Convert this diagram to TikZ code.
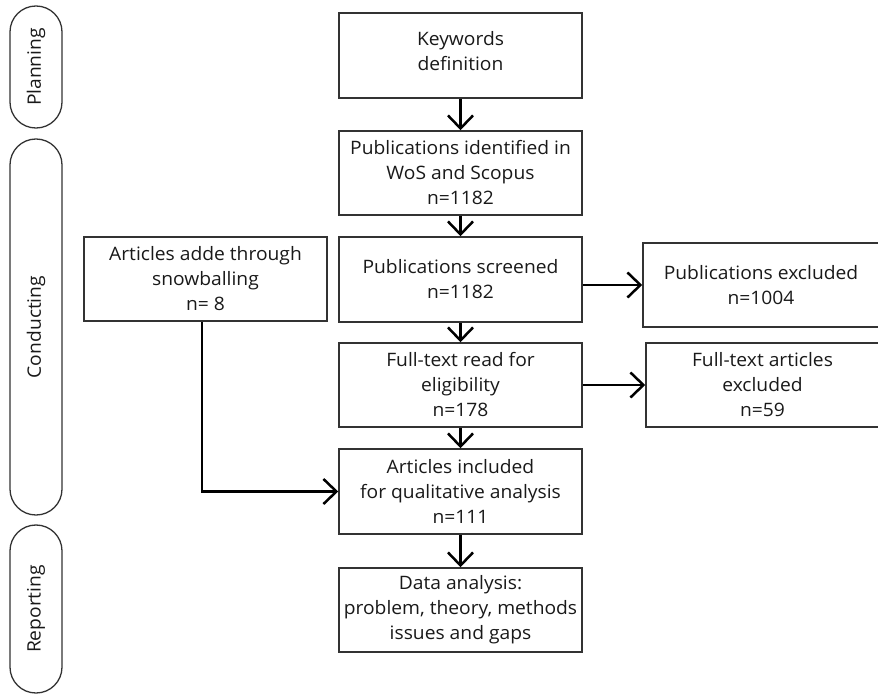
\documentclass[tikz,border=0pt]{standalone}
\usepackage{fontspec}
\setmainfont[FakeStretch=1.04]{Open Sans}
\usetikzlibrary{arrows.meta}
\begin{document}
\begin{tikzpicture}[x=1pt,y=-1pt,
  every node/.style={font=\fontsize{18.5}{25}\selectfont, align=center, text=black!90},
  box/.style={draw=black!80, line width=1.5pt, inner sep=0pt, minimum width=243pt, minimum height=85pt},
  phase/.style={draw=black!80, line width=1.3pt, rounded corners=25.9pt, minimum height=52pt, inner sep=0pt, rotate=90},
  flow/.style={line width=2.5pt, -{Straight Barb[length=13pt,width=25pt,line width=2.5pt]}},
]
\useasboundingbox (0,0) rectangle (878,694);

% phase labels on the left
\node[phase, minimum width=122pt] (plan) at (36,67) {Planning};
\node[phase, minimum width=376pt] (cond) at (36,327) {Conducting};
\node[phase, minimum width=168pt] (rep) at (36,609) {Reporting};

% main column
\node[box, text depth=10pt] (kw)  at (460.5,55.5)  {Keywords\\definition};
\node[box, minimum height=84pt] (id)  at (460.5,173)   {Publications identified in\\WoS and Scopus\\n=1182};
\node[box] (scr) at (460.5,279.5) {Publications screened\\n=1182};
\node[box, minimum height=84pt] (ft)  at (460.5,385)   {Full-text read for\\eligibility\\n=178};
\node[box] (art) at (460.5,491.5) {Articles included\\for qualitative analysis\\n=111};
\node[box, minimum height=84pt] (dat) at (460.5,610)   {Data analysis:\\problem, theory, methods\\issues and gaps};

% side boxes
\node[box, minimum height=84pt] (snow) at (205.5,279) {Articles adde through\\snowballing\\n= 8};
\node[box, minimum width=236pt, minimum height=84pt] (ex)  at (761,285) {Publications excluded\\n=1004};
\node[box, minimum width=233pt, minimum height=84pt] (fex) at (762.5,385) {Full-text articles\\excluded\\n=59};

% connectors
\draw[flow] (kw) -- (id);
\draw[flow] (id) -- (scr);
\draw[flow] (scr) -- (ft);
\draw[flow] (ft) -- (art);
\draw[flow] (art) -- (dat);
\draw[flow] (ex.west -| scr.east) -- (ex.west);
\draw[flow] (fex.west -| ft.east) -- (fex.west);
\coordinate (bend) at (202,491.5);
\draw[flow] (snow.south -| bend) |- (art.west);
\end{tikzpicture}
\end{document}
